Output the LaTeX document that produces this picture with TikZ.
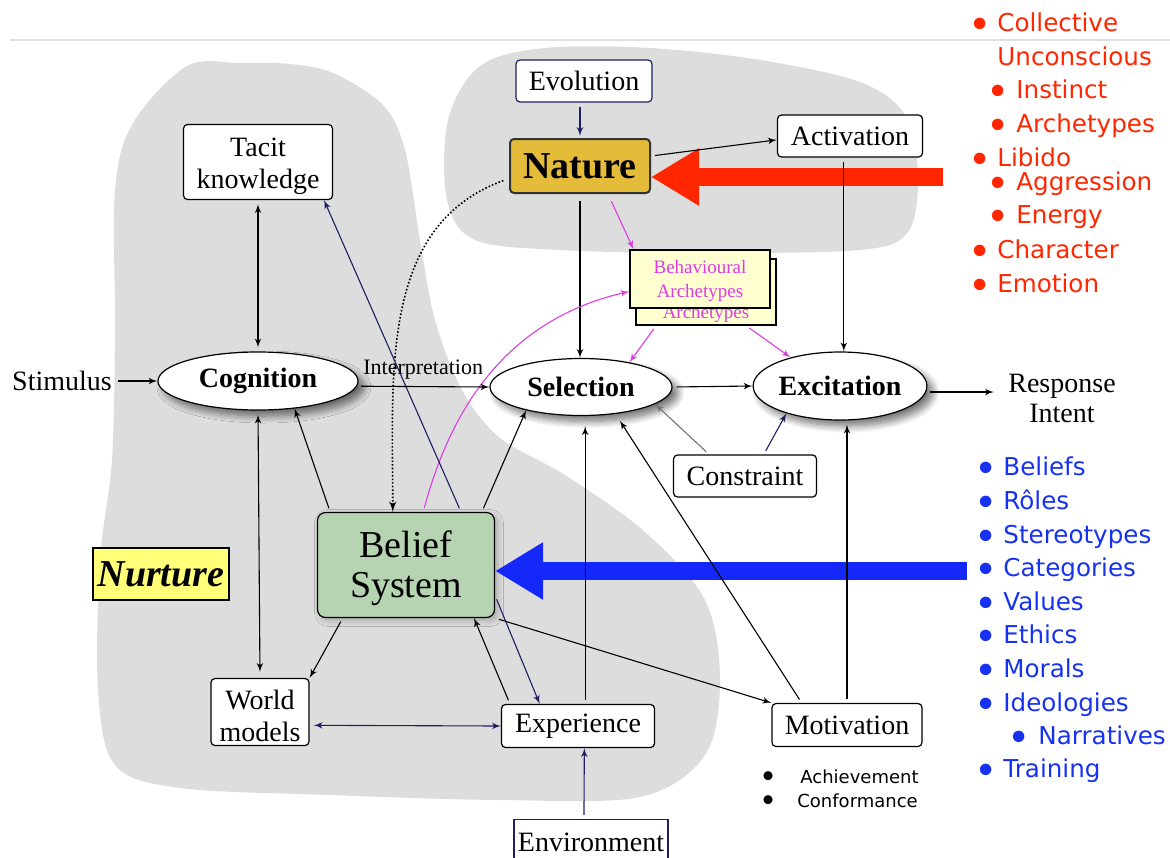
\documentclass[tikz,border=0pt]{standalone}
\usepackage{fontspec}
\usepackage{graphicx}
\setmainfont{Liberation Serif}
\newfontfamily\listfont{DejaVu Sans}
\usetikzlibrary{positioning,arrows,arrows.meta,calc,shapes,shadows.blur}
\definecolor{navy}{RGB}{30,30,100}
\definecolor{archmag}{RGB}{220,60,225}
\definecolor{archfill}{RGB}{255,255,208}
\definecolor{naturegold}{RGB}{229,188,58}
\definecolor{beliefgreen}{RGB}{182,212,178}
\definecolor{nurtureyellow}{RGB}{255,255,120}
\definecolor{blobgray}{RGB}{221,221,221}
\definecolor{listred}{RGB}{255,38,0}
\definecolor{listblue}{RGB}{22,50,240}
\definecolor{arrowblue}{RGB}{20,40,250}
% list bullets: #1 = room before the text, #2 = shift of the dot
\newcommand{\lbul}[2]{\makebox[#1][l]{\hspace{#2}\raisebox{-3.9pt}{\scalebox{1.6}{•}}}}
\newcommand{\sbul}[1]{\makebox[#1][l]{\hspace{-4.5pt}\raisebox{-2pt}{\scalebox{1.7}{•}}}}
\tikzset{
    >=latex',
    box/.style = {
        draw,
        shape=rectangle,
        rounded corners=2pt,
        fill=white,
        line width=0.6pt,
        align=center,
        inner sep=1pt,
        font=\fontsize{14}{16}\selectfont
    },
    stage/.style = {
        draw,
        shape=ellipse,
        fill=white,
        line width=0.6pt,
        inner sep=0pt,
        font=\bfseries\fontsize{14}{16}\selectfont,
        blur shadow={shadow xshift=3pt, shadow yshift=-3pt,
            shadow blur radius=3.5pt, shadow blur steps=10, shadow opacity=55}
    },
    archbox/.style = {
        draw,
        shape=rectangle,
        fill=archfill,
        line width=0.6pt,
        minimum width=70pt
    },
    archtext/.style = {
        align=center,
        inner sep=0pt,
        text=archmag,
        font=\fontsize{9.5}{12}\selectfont
    },
    plain/.style = {
        inner sep=1pt,
        align=center,
        font=\fontsize{14}{15}\selectfont
    },
    redlist/.style = {
        anchor=base west,
        inner sep=0pt,
        text=listred,
        font=\listfont\fontsize{12.3}{14}\selectfont
    },
    bluelist/.style = {
        anchor=base west,
        inner sep=0pt,
        text=listblue,
        font=\listfont\fontsize{12.3}{14}\selectfont
    },
    motivlist/.style = {
        anchor=base west,
        inner sep=0pt,
        font=\listfont\fontsize{9}{10}\selectfont
    },
    link/.style = {->, line width=0.55pt, shorten <=2pt},
    navylink/.style = {link, navy},
    maglink/.style = {link, archmag},
    graylink/.style = {link, black!55},
    bigarrow/.style = {line width=9pt, -{Triangle[length=24pt,width=27pt]}},
}

\begin{document}
\begin{tikzpicture}[x=0.5pt,y=-0.5pt]
\useasboundingbox (0,0) rectangle (1170,857);

% grey regions
\fill[blobgray] plot[smooth cycle, tension=0.55] coordinates {(115,190) (133,123) (187,66) (240,63) (290,64) (333,73) (383,105) (405,150) (420,240) (435,320) (462,390) (500,438) (565,475) (645,532) (705,600) (720,680) (705,755) (640,797) (500,800) (330,795) (180,788) (115,765) (98,690) (100,560) (112,460) (115,330)};
\fill[blobgray] plot[smooth cycle, tension=0.55] coordinates {(480,66) (545,48) (650,48) (760,60) (860,82) (905,115) (918,175) (908,232) (860,250) (700,253) (560,250) (475,240) (447,200) (448,120)};
\draw[black!12, line width=0.6pt] (10,40) -- (1170,40);

% nodes
\node[box, draw=navy, minimum width=68pt, minimum height=21pt] (evolution) at (584,81) {Evolution};
\node[box, fill=naturegold, draw=black!80, line width=1pt, minimum width=70pt, minimum height=27pt, font=\bfseries\fontsize{19}{20}\selectfont] (nature) at (580,166) {Nature};
\node[box, minimum width=72.5pt, minimum height=21pt] (activation) at (850,136) {Activation};
\node[box, minimum width=74.5pt, minimum height=37.5pt] (tacit) at (258,162) {\rule{0pt}{14pt}Tacit\\knowledge};
\node[plain] (stimulus) at (62,381) {Stimulus};
\node[stage, minimum width=100pt, minimum height=29pt] (cognition) at (258,381) {Cognition};
\node[stage, minimum width=91pt, minimum height=28.5pt] (selection) at (581,387) {Selection};
\node[stage, minimum width=82.5pt, minimum height=34pt] (excitation) at (840,386) {Excitation};
\node[plain, inner sep=7pt] (response) at (1062,398) {Response\\Intent};
\node[archbox, minimum height=33pt] (archback) at (706,292) {};
\node[archtext] (archbacktext) at (706,302) {Behavioural\\Archetypes};
\node[archbox, minimum height=29pt] (arch) at (700,279) {};
\node[archtext] (archtext) at (700,281) {Behavioural\\Archetypes};
\node[box, minimum width=71.5pt, minimum height=21pt] (constraint) at (745,476) {Constraint};
\node[box, fill=beliefgreen, rounded corners=4pt, minimum width=88.5pt, minimum height=52.5pt, font=\fontsize{19}{20}\selectfont, blur shadow={shadow xshift=1.5pt, shadow yshift=-1.5pt, shadow blur radius=3pt, shadow opacity=25}] (belief) at (406,565) {\rule{0pt}{17pt}Belief\\System};
\node[box, sharp corners, fill=nurtureyellow, minimum width=68pt, minimum height=26pt, font=\bfseries\itshape\fontsize{19}{20}\selectfont] (nurture) at (161,574) {Nurture};
\node[box, minimum width=49pt, minimum height=33.5pt] (world) at (260,712) {\rule{0pt}{14pt}World\\models};
\node[box, minimum width=76.5pt, minimum height=21.5pt] (experience) at (578,726) {Experience};
\node[box, sharp corners, draw=navy, minimum width=77pt, minimum height=22.5pt] (environment) at (591,842) {Environment};
\node[box, minimum width=75pt, minimum height=21.5pt] (motivation) at (847,725) {Motivation};
\node[motivlist] (achieve) at (768,783) {\sbul{16pt}Achievement};
\node[motivlist] (conform) at (768,807) {\sbul{14.5pt}Conformance};

% nature list
\node[redlist] (rl1) at (979,31) {\lbul{9pt}{-5.3pt}Collective};
\node[redlist] (rl2) at (997,65) {Unconscious};
\node[redlist] (rl3) at (997,98) {\lbul{9.5pt}{-5.3pt}Instinct};
\node[redlist] (rl4) at (997,132) {\lbul{9.5pt}{-5.3pt}Archetypes};
\node[redlist] (rl5) at (979,166) {\lbul{9pt}{-5.3pt}Libido};
\node[redlist] (rl6) at (997,190) {\lbul{9.5pt}{-5.3pt}Aggression};
\node[redlist] (rl7) at (997,223) {\lbul{9.5pt}{-5.3pt}Energy};
\node[redlist] (rl8) at (979,258) {\lbul{9pt}{-5.3pt}Character};
\node[redlist] (rl9) at (979,292) {\lbul{9pt}{-5.3pt}Emotion};

% nurture list
\node[bluelist] (bl1) at (983,475) {\lbul{10pt}{-4.3pt}Beliefs};
\node[bluelist] (bl2) at (983,509) {\lbul{10pt}{-4.3pt}Rôles};
\node[bluelist] (bl3) at (983,543) {\lbul{10pt}{-4.3pt}Stereotypes};
\node[bluelist] (bl4) at (983,576) {\lbul{10pt}{-4.3pt}Categories};
\node[bluelist] (bl5) at (983,610) {\lbul{10pt}{-4.3pt}Values};
\node[bluelist] (bl6) at (983,643) {\lbul{10pt}{-4.3pt}Ethics};
\node[bluelist] (bl7) at (983,677) {\lbul{10pt}{-4.3pt}Morals};
\node[bluelist] (bl8) at (983,711) {\lbul{10pt}{-4.3pt}Ideologies};
\node[bluelist] (bl9) at (1016,744) {\lbul{11pt}{-4.3pt}Narratives};
\node[bluelist] (bl10) at (983,777) {\lbul{10pt}{-4.3pt}Training};

% big arrows
\coordinate (redtail) at (943,177);
\coordinate (bluetail) at (967,571);
\path[draw, bigarrow, listred] (redtail) -- (nature.east |- redtail);
\path[draw, bigarrow, arrowblue] (bluetail) -- (belief.east |- bluetail);

% connectors
\path[draw, navylink, shorten >=1pt] (nature.north |- evolution.south) -- (nature.north);
\path[draw, link] (nature.8) -- (activation.183);
\path[draw, link] (activation.-106) -- (activation.-106 |- excitation.north);
\path[draw, link, shorten <=3.5pt] (nature.south) -- (nature.south |- selection.north);
\path[draw, maglink, shorten <=4pt] (nature.-45) -- (arch.156);
\path[draw, maglink] (archback.214) -- (selection.27);
\path[draw, maglink] (archback.-40) -- (excitation.150);
\path[draw, maglink] (belief.72) to[out=75, in=193] (arch.190);
\path[draw, ->, densely dotted, line width=0.8pt, shorten <=3pt] (nature.190) to[out=200, in=90] (belief.104);
\path[draw, navylink] (belief.44) -- (tacit.-30);
\path[draw, link, <->, shorten >=2pt] (tacit.south) -- (cognition.north);
\path[draw, link] (stimulus.east) -- (cognition.west);
\path[draw, link] (cognition.-3) -- (selection.west) node [midway, above, font=\fontsize{11}{12}\selectfont] (interp) {Interpretation};
\path[draw, link] (selection.east) -- (excitation.west);
\path[draw, link] (excitation.-4) -- (response.west |- excitation.-4);
\path[draw, link] (belief.145) -- (cognition.-37);
\path[draw, link] (belief.35) -- (selection.203);
\path[draw, link, <->, shorten >=3pt] (cognition.south) -- (world.north);
\path[draw, link] (belief.220) -- (world.north east);
\path[draw, link] (experience.162) -- (belief.-38);
\path[draw, navylink] (belief.-19) -- (experience.150);
\path[draw, navylink, <->] (world.-15) -- (experience.west);
\path[draw, navylink] (environment.107) -- (experience.-74);
\path[draw, link, shorten >=5pt] (experience.72) -- (experience.72 |- selection.south);
\path[draw, link] (belief.south east) -- (motivation.north west);
\path[draw, link, shorten >=4pt] (motivation.154) -- (selection.-38);
\path[draw, link, shorten >=2pt] (motivation.north) -- (motivation.north |- excitation.south);
\path[draw, graylink] (constraint.149) -- (selection.-13);
\path[draw, navylink] (constraint.49) -- (excitation.207);

\end{tikzpicture}
\end{document}
